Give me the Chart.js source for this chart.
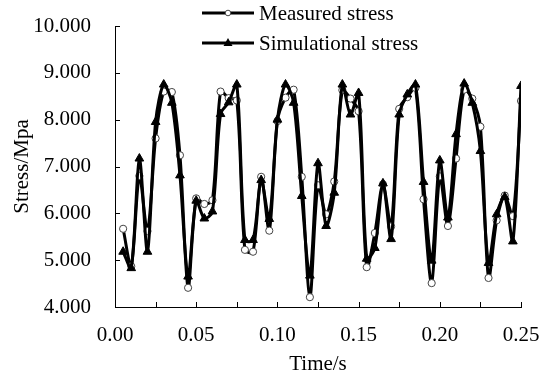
<!DOCTYPE html>
<html>
<head>
<meta charset="utf-8">
<script src="https://cdn.jsdelivr.net/npm/chart.js@4.4.1/dist/chart.umd.min.js"></script>
<style>
  html, body { margin: 0; padding: 0; background: #fff; }
  #chart { display: block; }
</style>
</head>
<body>
<canvas id="chart" width="550" height="385"></canvas>
<script>
/* =======================
   DATA
======================= */

const times = [
  0.005, 0.010, 0.015, 0.020, 0.025, 0.030, 0.035, 0.040, 0.045, 0.050,
  0.055, 0.060, 0.065, 0.070, 0.075, 0.080, 0.085, 0.090, 0.095, 0.100,
  0.105, 0.110, 0.115, 0.120, 0.125, 0.130, 0.135, 0.140, 0.145, 0.150,
  0.155, 0.160, 0.165, 0.170, 0.175, 0.180, 0.185, 0.190, 0.195, 0.200,
  0.205, 0.210, 0.215, 0.220, 0.225, 0.230, 0.235, 0.240, 0.245, 0.250
];

const measured = [
  5.67, 4.87, 6.80, 5.62, 7.60, 8.60, 8.59, 7.24, 4.41, 6.32,
  6.20, 6.28, 8.60, 8.46, 8.41, 5.22, 5.18, 6.78, 5.63, 7.97,
  8.47, 8.64, 6.78, 4.21, 6.60, 5.98, 6.68, 8.63, 8.45, 8.18,
  4.85, 5.58, 6.62, 5.72, 8.23, 8.48, 8.68, 6.30, 4.51, 6.79,
  5.73, 7.17, 8.64, 8.45, 7.85, 4.62, 5.85, 6.38, 5.94, 8.40
];

const simulated = [
  5.18, 4.83, 7.17, 5.18, 7.95, 8.75, 8.36, 6.81, 4.65, 6.27,
  5.89, 6.04, 8.12, 8.37, 8.75, 5.43, 5.43, 6.71, 5.88, 8.00,
  8.75, 8.36, 6.37, 4.67, 7.07, 5.73, 6.44, 8.75, 8.11, 8.57,
  5.03, 5.26, 6.64, 5.45, 8.11, 8.54, 8.75, 6.67, 4.99, 7.13,
  5.91, 7.69, 8.77, 8.36, 7.33, 4.94, 5.98, 6.35, 5.40, 8.72
];

const xTicks = [0.00, 0.05, 0.10, 0.15, 0.20, 0.25];
const xMinorTicks = [0.025, 0.075, 0.125, 0.175, 0.225];
const yTicks = [4, 5, 6, 7, 8, 9, 10];

const seriesNames = ["Measured stress", "Simulational stress"];

const FONT = "'Liberation Serif', 'Times New Roman', serif";
const FONT_SIZE = 21;

/* =======================
   PLUGINS
======================= */

// tick marks pointing into the plot, like the original
const innerTicks = {
  id: "innerTicks",
  afterDraw(chart) {
    const { ctx, chartArea, scales } = chart;
    ctx.save();
    ctx.strokeStyle = "#000";
    ctx.lineWidth = 1;
    ctx.beginPath();
    yTicks.forEach(v => {
      const y = Math.round(scales.y.getPixelForValue(v)) + 0.5;
      ctx.moveTo(chartArea.left, y);
      ctx.lineTo(chartArea.left + 5, y);
    });
    xTicks.concat(xMinorTicks).forEach(v => {
      const x = Math.round(scales.x.getPixelForValue(v)) + 0.5;
      ctx.moveTo(x, chartArea.bottom);
      ctx.lineTo(x, chartArea.bottom - 5);
    });
    ctx.stroke();
    ctx.restore();
  }
};

// legend sits over the top of the plot
const topLegend = {
  id: "topLegend",
  afterDraw(chart) {
    const { ctx } = chart;
    const rows = [13, 43];
    ctx.save();
    rows.forEach((y, i) => {
      ctx.strokeStyle = "#000";
      ctx.lineWidth = 3;
      ctx.beginPath();
      ctx.moveTo(202, y);
      ctx.lineTo(254, y);
      ctx.stroke();

      if (i === 0) {
        ctx.fillStyle = "#fff";
        ctx.strokeStyle = "#444";
        ctx.lineWidth = 1;
        ctx.beginPath();
        ctx.arc(228, y, 2.8, 0, Math.PI * 2);
        ctx.fill();
        ctx.stroke();
      } else {
        ctx.fillStyle = "#000";
        ctx.beginPath();
        ctx.moveTo(228, y - 5);
        ctx.lineTo(232.5, y + 3);
        ctx.lineTo(223.5, y + 3);
        ctx.closePath();
        ctx.fill();
      }

      ctx.fillStyle = "#000";
      ctx.font = FONT_SIZE + "px " + FONT;
      ctx.textBaseline = "middle";
      ctx.textAlign = "left";
      ctx.fillText(seriesNames[i], 259, y + 1);
    });
    ctx.restore();
  }
};

/* =======================
   CHART
======================= */

const toPoints = arr => arr.map((v, i) => ({ x: times[i], y: v }));
const axisFont = { family: FONT, size: FONT_SIZE };

new Chart(document.getElementById("chart"), {
  type: "line",
  data: {
    datasets: [
      {
        label: seriesNames[0],
        data: toPoints(measured),
        borderColor: "#000",
        borderWidth: 3,
        tension: 0.3,
        pointStyle: "circle",
        pointRadius: 3.6,
        pointBorderWidth: 1,
        pointBorderColor: "#444",
        pointBackgroundColor: "#fff",
        order: 1
      },
      {
        label: seriesNames[1],
        data: toPoints(simulated),
        borderColor: "#000",
        borderWidth: 3,
        tension: 0.3,
        pointStyle: "triangle",
        pointRadius: 5,
        pointBorderWidth: 1,
        pointBorderColor: "#000",
        pointBackgroundColor: "#000",
        order: 0
      }
    ]
  },
  options: {
    responsive: false,
    animation: false,
    layout: { padding: { top: 26, right: 29, left: 0, bottom: 0 } },
    plugins: {
      legend: { display: false },
      tooltip: { enabled: false }
    },
    scales: {
      x: {
        type: "linear",
        min: 0,
        max: 0.25,
        afterFit(scale) {
          scale.height = 78;
          scale.paddingLeft = 0;
          scale.paddingRight = 0;
        },
        afterBuildTicks(scale) { scale.ticks = xTicks.map(v => ({ value: v })); },
        grid: { display: false, drawTicks: false },
        border: { display: true, color: "#000", width: 1 },
        ticks: {
          padding: 16,
          color: "#000",
          font: axisFont,
          maxRotation: 0,
          callback: v => v.toFixed(2)
        },
        title: {
          display: true,
          text: "Time/s",
          color: "#000",
          font: axisFont,
          padding: { top: 0, bottom: 8 }
        }
      },
      y: {
        min: 4,
        max: 10,
        afterFit(scale) {
          scale.width = 115;
          scale.paddingTop = 0;
          scale.paddingBottom = 0;
        },
        afterBuildTicks(scale) { scale.ticks = yTicks.map(v => ({ value: v })); },
        grid: { display: false, drawTicks: false },
        border: { display: true, color: "#000", width: 1 },
        ticks: {
          padding: 24,
          color: "#000",
          font: axisFont,
          callback: v => v.toFixed(3)
        },
        title: {
          display: true,
          text: "Stress/Mpa",
          color: "#000",
          font: axisFont,
          padding: { top: 10, bottom: 0 }
        }
      }
    }
  },
  plugins: [innerTicks, topLegend]
});
</script>
</body>
</html>
